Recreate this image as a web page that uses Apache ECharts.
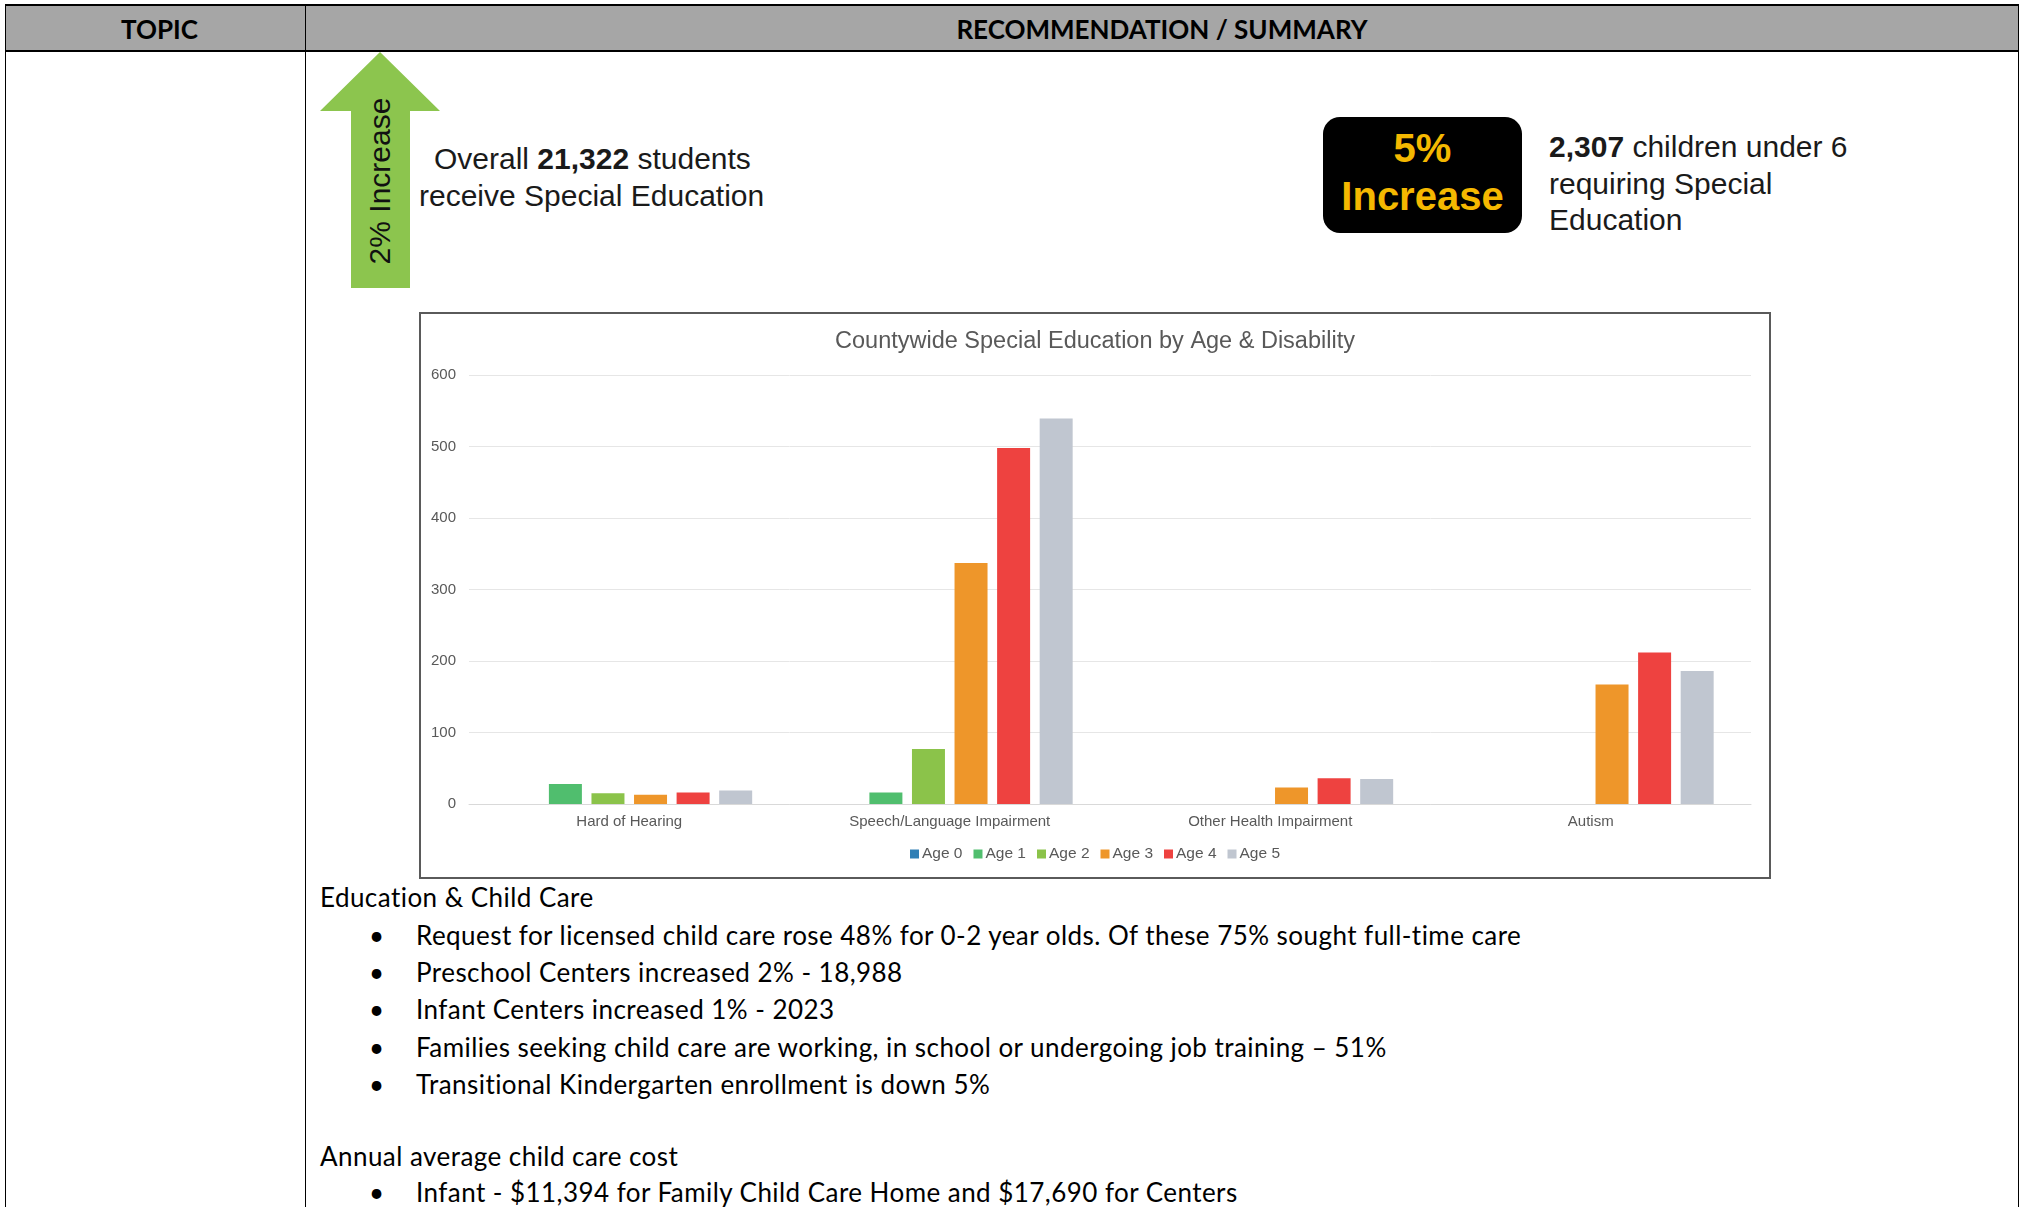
<!DOCTYPE html>
<html>
<head>
<meta charset="utf-8">
<script src="https://cdn.jsdelivr.net/npm/echarts@6/dist/echarts.min.js"></script>
<style>
  html, body { margin: 0; padding: 0; background: #fff; }
  body { width: 2021px; height: 1207px; position: relative; overflow: hidden; }
  .abs { position: absolute; }
  .hdr { background: #a6a6a6; }
  .line { background: #000; }
  .htext { font-family: Lato, sans-serif; font-weight: bold; font-size: 26px; color: #000; top: 13px; }
  .arial { font-family: "Liberation Sans", Arial, sans-serif; color: #1a1a1a; white-space: nowrap; }
  .body { font-family: Lato, sans-serif; font-size: 26px; letter-spacing: 0.45px; line-height: 30px; color: #000; white-space: nowrap; }
  #chartBox { left: 419px; top: 312px; width: 1352px; height: 567px; box-sizing: border-box; border: 2px solid #5a5a5a; }
  #chart { width: 100%; height: 100%; }
</style>
</head>
<body>
<!-- table frame -->
<div class="abs hdr" style="left:6px;top:5px;width:2012px;height:46px;"></div>
<div class="abs line" style="left:5px;top:4px;width:2014px;height:2px;"></div>
<div class="abs line" style="left:5px;top:50px;width:2014px;height:2px;"></div>
<div class="abs line" style="left:5px;top:4px;width:1px;height:1203px;"></div>
<div class="abs line" style="left:305px;top:4px;width:1px;height:1203px;"></div>
<div class="abs line" style="left:2018px;top:4px;width:1px;height:1203px;"></div>
<div class="abs htext" style="left:10px;width:299px;text-align:center;">TOPIC</div>
<div class="abs htext" style="left:306px;width:1712px;text-align:center;">RECOMMENDATION / SUMMARY</div>

<!-- infographic -->
<svg class="abs" style="left:0;top:0;" width="2021" height="300">
  <polygon points="380,52 440,111 410,111 410,288 351,288 351,111 320,111" fill="#8cc54e"/>
</svg>
<div class="abs arial" style="left:380px;top:181px;font-size:30px;color:#111;transform:translate(-50%,-50%) rotate(-90deg);">2% Increase</div>
<div class="abs arial" style="left:434px;top:142px;font-size:30px;">Overall <b>21,322</b> students</div>
<div class="abs arial" style="left:419px;top:179px;font-size:30px;">receive Special Education</div>

<div class="abs" style="left:1323px;top:117px;width:199px;height:116px;background:#000;border-radius:17px;"></div>
<div class="abs arial" style="left:1323px;top:124px;width:199px;text-align:center;font-size:40px;font-weight:bold;color:#f5b800;line-height:48px;">5%<br>Increase</div>

<div class="abs arial" style="left:1549px;top:129px;font-size:30px;line-height:36.5px;"><b>2,307</b> children under 6<br>requiring Special<br>Education</div>

<!-- chart -->
<div id="chartBox" class="abs"><div id="chart"></div></div>

<!-- text below -->
<div id="notes"></div>

<script>
var categories = ['Hard of Hearing', 'Speech/Language Impairment', 'Other Health Impairment', 'Autism'];
var seriesNames = ['Age 0', 'Age 1', 'Age 2', 'Age 3', 'Age 4', 'Age 5'];
var age0 = [0, 0, 0, 0];
var age1 = [28, 16, 0, 0];
var age2 = [15, 77, 0, 0];
var age3 = [13, 337, 23, 167];
var age4 = [16, 498, 36, 212];
var age5 = [19, 539, 35, 186];
var yTicks = [0, 100, 200, 300, 400, 500, 600];

var educationItems = [
    'Request for licensed child care rose 48% for 0-2 year olds. Of these 75% sought full-time care',
    'Preschool Centers increased 2% - 18,988',
    'Infant Centers increased 1% - 2023',
    'Families seeking child care are working, in school or undergoing job training \u2013 51%',
    'Transitional Kindergarten enrollment is down 5%'
];
var costItems = [
    'Infant - $11,394 for Family Child Care Home and $17,690 for Centers'
];

var colors = ['#2f7fb5', '#50be6e', '#8bc34a', '#ee962a', '#ee4240', '#c0c6d0'];
var values = [age0, age1, age2, age3, age4, age5];

// notes text under the chart (y = line centre)
var notes = document.getElementById('notes');
function addLine(text, x, y, bullet) {
    var d = document.createElement('div');
    d.className = 'abs body';
    d.style.left = x + 'px';
    d.style.top = (y - 15) + 'px';
    d.textContent = text;
    notes.appendChild(d);
    if (bullet) {
        var b = document.createElement('div');
        b.className = 'abs body';
        b.style.left = '369px';
        b.style.top = (y - 15) + 'px';
        b.textContent = '\u2022';
        notes.appendChild(b);
    }
}
addLine('Education & Child Care', 320, 897);
educationItems.forEach(function(t, i) {
    addLine(t, 416, 935 + i * 37.2, true);
});
addLine('Annual average child care cost', 320, 1156);
costItems.forEach(function(t, i) {
    addLine(t, 416, 1192 + i * 37.2, true);
});

var chart = echarts.init(document.getElementById('chart'));
var font = '"Liberation Sans", Arial, sans-serif';

var option = {
    backgroundColor: '#fff',
    animation: false,
    textStyle: { fontFamily: font },
    title: {
        text: 'Countywide Special Education by Age & Disability',
        left: 'center',
        top: 11,
        textStyle: { fontSize: 23.5, fontWeight: 'normal', color: '#595959', fontFamily: font }
    },
    legend: {
        data: seriesNames,
        bottom: 10,
        left: 'center',
        icon: 'rect',
        itemWidth: 9,
        itemHeight: 9,
        itemGap: 11,
        textStyle: { fontSize: 15.5, color: '#595959', fontFamily: font, padding: [0, 0, 0, -2] }
    },
    grid: {
        left: 48,
        right: 18,
        top: 61,
        bottom: 73,
        containLabel: false,
        outerBoundsMode: 'none'
    },
    xAxis: {
        type: 'category',
        data: categories,
        axisLine: { lineStyle: { color: '#d9d9d9', width: 1 } },
        axisTick: { show: false },
        axisLabel: { fontSize: 15, color: '#595959', margin: 10, fontFamily: font }
    },
    yAxis: {
        type: 'value',
        min: yTicks[0],
        max: yTicks[yTicks.length - 1],
        interval: yTicks[1] - yTicks[0],
        axisLine: { show: false },
        axisTick: { show: false },
        axisLabel: { fontSize: 15, color: '#595959', margin: 13, fontFamily: font },
        splitLine: { lineStyle: { color: '#e6e6e6', width: 1 } }
    },
    series: seriesNames.map(function(name, i) {
        return {
            name: name,
            type: 'bar',
            data: values[i],
            barWidth: 33,
            barGap: '29%',
            itemStyle: { color: colors[i] }
        };
    })
};

chart.setOption(option);
</script>
</body>
</html>
